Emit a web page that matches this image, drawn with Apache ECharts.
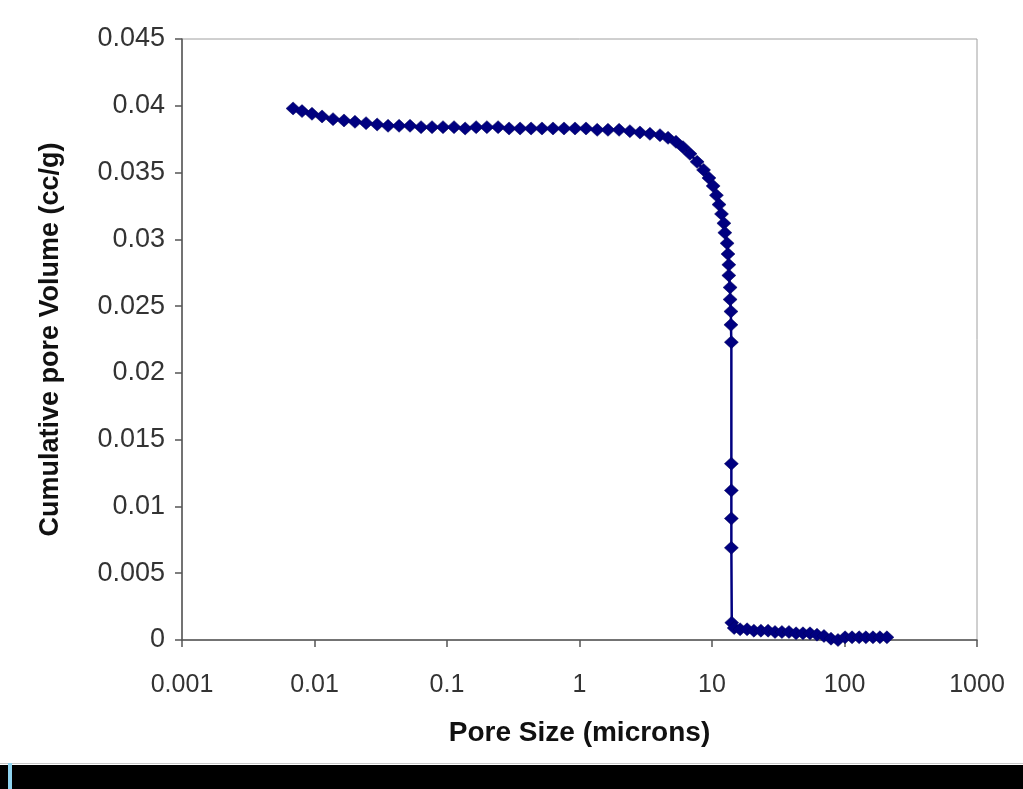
<!DOCTYPE html>
<html>
<head>
<meta charset="utf-8">
<script src="https://cdn.jsdelivr.net/npm/echarts@6/dist/echarts.min.js"></script>
<style>
html,body{margin:0;padding:0;background:#fff;}
#chart{width:1023px;height:789px;}
</style>
</head>
<body>
<div id="chart"></div>
<script>
// Pore size (microns)
const poreSize = [
  0.00689, 0.00805, 0.00957, 0.0114, 0.0138, 0.0167, 0.0202, 0.0245, 0.0297, 0.0359,
  0.0435, 0.0526, 0.0637, 0.0771, 0.0933, 0.113, 0.137, 0.166, 0.200, 0.243,
  0.294, 0.356, 0.431, 0.521, 0.631, 0.764, 0.925, 1.12, 1.36, 1.64,
  1.99, 2.40, 2.86, 3.40, 4.05, 4.66, 5.35, 6.04, 6.82, 7.72,
  8.64, 9.48, 10.2, 10.8, 11.3, 11.8, 12.3, 12.5, 13.0, 13.2,
  13.4, 13.4, 13.7, 13.7, 13.9, 13.9, 14.0, 14.0, 14.0, 14.0,
  14.0, 14.1, 14.7, 16.3, 18.4, 20.7, 23.4, 26.5, 29.9, 33.7,
  38.1, 43.1, 48.6, 54.9, 62.0, 70.0, 79.1, 89.3, 101, 114,
  129, 145, 164, 185, 209
];
// Cumulative pore volume (cc/g)
const cumVolume = [
  0.0398, 0.0396, 0.0394, 0.0392, 0.0390, 0.0389, 0.0388, 0.0387, 0.0386, 0.0385,
  0.0385, 0.0385, 0.0384, 0.0384, 0.0384, 0.0384, 0.0383, 0.0384, 0.0384, 0.0384,
  0.0383, 0.0383, 0.0383, 0.0383, 0.0383, 0.0383, 0.0383, 0.0383, 0.0382, 0.0382,
  0.0382, 0.0381, 0.0380, 0.0379, 0.0378, 0.0376, 0.0373, 0.0369, 0.0364, 0.0358,
  0.0352, 0.0346, 0.0340, 0.0333, 0.0326, 0.0319, 0.0312, 0.0305, 0.0297, 0.0289,
  0.0281, 0.0273, 0.0264, 0.0255, 0.0246, 0.0236, 0.0223, 0.0132, 0.0112, 0.0091,
  0.0069, 0.0013, 0.0009, 0.0008, 0.0008, 0.0007, 0.0007, 0.0007, 0.0006, 0.0006,
  0.0006, 0.0005, 0.0005, 0.0005, 0.0004, 0.0003, 0.0001, 0.0000, 0.0002, 0.0002,
  0.0002, 0.0002, 0.0002, 0.0002, 0.0002
];
const xTicks = ['0.001', '0.01', '0.1', '1', '10', '100', '1000'];
const yTicks = ['0', '0.005', '0.01', '0.015', '0.02', '0.025', '0.03', '0.035', '0.04', '0.045'];
const xTitle = 'Pore Size (microns)';
const yTitle = 'Cumulative pore Volume (cc/g)';

const points = poreSize.map((x, i) => [x, cumVolume[i]]);
const chart = echarts.init(document.getElementById('chart'), null, {renderer: 'canvas'});
const labelFont = 'Liberation Sans, Arial, sans-serif';
chart.setOption({
  animation: false,
  backgroundColor: '#ffffff',
  grid: {left: 182, right: 46, top: 39, bottom: 149, show: true, borderColor: '#a0a0a0', borderWidth: 1, backgroundColor: 'transparent'},
  xAxis: {
    type: 'log', logBase: 10, min: 0.001, max: 1000,
    name: xTitle, nameLocation: 'middle', nameGap: 79,
    nameTextStyle: {fontFamily: labelFont, fontWeight: 'bold', fontSize: 28, color: '#111'},
    axisLine: {show: true, lineStyle: {color: '#555', width: 1.5}},
    axisTick: {show: true, inside: false, length: 7, lineStyle: {color: '#555', width: 1.5}},
    minorTick: {show: false},
    splitLine: {show: false},
    axisLabel: {
      margin: 33, fontFamily: labelFont, fontSize: 25, color: '#333',
      formatter: function (v) {
        const e = Math.round(Math.log10(v));
        return xTicks[e + 3];
      }
    }
  },
  yAxis: {
    type: 'value', min: 0, max: 0.045, interval: 0.005,
    name: yTitle, nameLocation: 'middle', nameGap: 118, nameRotate: 90,
    nameTextStyle: {fontFamily: labelFont, fontWeight: 'bold', fontSize: 27, color: '#111'},
    axisLine: {show: true, lineStyle: {color: '#555', width: 1.5}},
    axisTick: {show: true, inside: false, length: 7, lineStyle: {color: '#555', width: 1.5}},
    splitLine: {show: false},
    axisLabel: {
      margin: 17, fontFamily: labelFont, fontSize: 27, color: '#333',
      formatter: function (v) {
        return yTicks[Math.round(v / 0.005)];
      }
    }
  },
  series: [{
    type: 'line',
    data: points,
    symbol: 'diamond',
    symbolSize: [14, 13],
    showAllSymbol: true,
    lineStyle: {color: '#000080', width: 2.5},
    itemStyle: {color: '#000080', borderColor: '#00005a', borderWidth: 0.5},
    z: 3
  }],
  graphic: [
    {type: 'rect', left: 0, top: 763, shape: {width: 1023, height: 1}, style: {fill: '#c8c8c8'}, silent: true},
    {type: 'rect', left: 0, top: 765, shape: {width: 1023, height: 24}, style: {fill: '#000000'}, silent: true},
    {type: 'rect', left: 8, top: 763, shape: {width: 4, height: 26}, style: {fill: '#8fd3ef'}, silent: true}
  ]
});
</script>
</body>
</html>
